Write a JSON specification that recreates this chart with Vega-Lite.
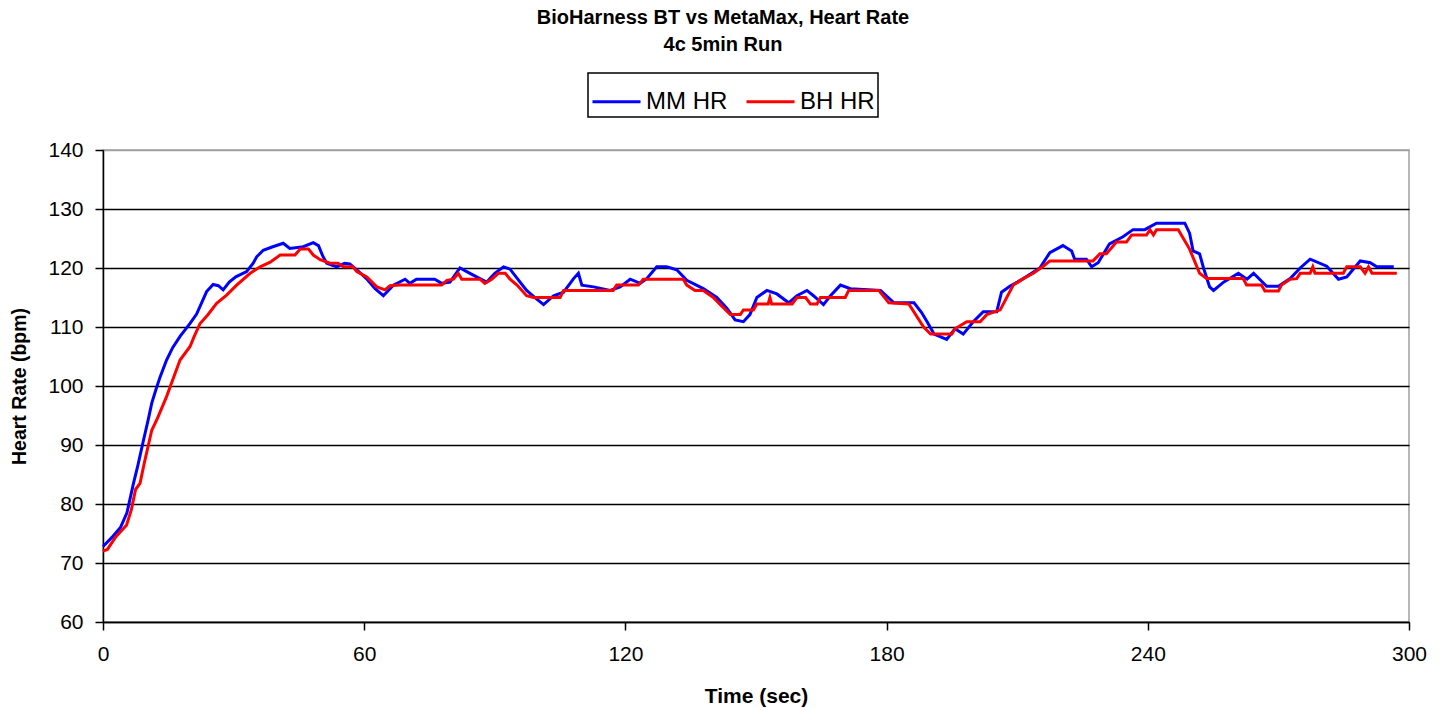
{
  "$schema": "https://vega.github.io/schema/vega-lite/v6.json",
  "autosize": {"type": "none"},
  "width": 1306,
  "height": 472,
  "padding": {"left": 103, "top": 150, "right": 38, "bottom": 88},
  "background": "white",
  "title": {
    "text": ["BioHarness BT vs MetaMax, Heart Rate", "4c 5min Run"],
    "fontSize": 20,
    "fontWeight": "bold",
    "font": "Liberation Sans",
    "anchor": "middle",
    "dx": -33,
    "lineHeight": 27,
    "offset": 17,
    "color": "black"
  },
  "config": {
    "font": "Liberation Sans",
    "view": {"stroke": "#a0a0a0", "strokeWidth": 1.5},
    "axis": {
      "labelFont": "Liberation Sans",
      "titleFont": "Liberation Sans",
      "labelColor": "black",
      "titleColor": "black",
      "domainColor": "black",
      "domainWidth": 1.5,
      "tickColor": "black",
      "tickWidth": 1.5,
      "tickSize": 8,
      "labelFontSize": 21,
      "titleFontSize": 20,
      "titleFontWeight": "bold"
    }
  },
  "data": {
    "values": [
      {"t": 0, "hr": 72.8, "series": "MM HR"},
      {"t": 2, "hr": 74.3, "series": "MM HR"},
      {"t": 4, "hr": 76, "series": "MM HR"},
      {"t": 5.5, "hr": 78.5, "series": "MM HR"},
      {"t": 7, "hr": 83.5, "series": "MM HR"},
      {"t": 8, "hr": 86.5, "series": "MM HR"},
      {"t": 9.3, "hr": 90.8, "series": "MM HR"},
      {"t": 10.3, "hr": 94, "series": "MM HR"},
      {"t": 11.2, "hr": 97.1, "series": "MM HR"},
      {"t": 12.2, "hr": 99.5, "series": "MM HR"},
      {"t": 13.1, "hr": 101.5, "series": "MM HR"},
      {"t": 14.6, "hr": 104.4, "series": "MM HR"},
      {"t": 16, "hr": 106.5, "series": "MM HR"},
      {"t": 17.7, "hr": 108.4, "series": "MM HR"},
      {"t": 20, "hr": 110.6, "series": "MM HR"},
      {"t": 21.5, "hr": 112.2, "series": "MM HR"},
      {"t": 22.6, "hr": 114, "series": "MM HR"},
      {"t": 23.8, "hr": 116, "series": "MM HR"},
      {"t": 25.3, "hr": 117.2, "series": "MM HR"},
      {"t": 26.5, "hr": 117, "series": "MM HR"},
      {"t": 27.6, "hr": 116.3, "series": "MM HR"},
      {"t": 29, "hr": 117.6, "series": "MM HR"},
      {"t": 30.5, "hr": 118.5, "series": "MM HR"},
      {"t": 33, "hr": 119.4, "series": "MM HR"},
      {"t": 34.5, "hr": 120.8, "series": "MM HR"},
      {"t": 35.3, "hr": 121.9, "series": "MM HR"},
      {"t": 36.8, "hr": 123, "series": "MM HR"},
      {"t": 39, "hr": 123.6, "series": "MM HR"},
      {"t": 41.4, "hr": 124.2, "series": "MM HR"},
      {"t": 42.9, "hr": 123.3, "series": "MM HR"},
      {"t": 46, "hr": 123.6, "series": "MM HR"},
      {"t": 48.3, "hr": 124.3, "series": "MM HR"},
      {"t": 49.5, "hr": 123.8, "series": "MM HR"},
      {"t": 50.5, "hr": 122, "series": "MM HR"},
      {"t": 51.4, "hr": 120.8, "series": "MM HR"},
      {"t": 53.7, "hr": 120.2, "series": "MM HR"},
      {"t": 55.5, "hr": 120.8, "series": "MM HR"},
      {"t": 56.7, "hr": 120.7, "series": "MM HR"},
      {"t": 58.3, "hr": 119.7, "series": "MM HR"},
      {"t": 60.5, "hr": 118.2, "series": "MM HR"},
      {"t": 62.5, "hr": 116.5, "series": "MM HR"},
      {"t": 64.4, "hr": 115.3, "series": "MM HR"},
      {"t": 66.7, "hr": 117.1, "series": "MM HR"},
      {"t": 69.4, "hr": 118.1, "series": "MM HR"},
      {"t": 70.5, "hr": 117.4, "series": "MM HR"},
      {"t": 72, "hr": 118.1, "series": "MM HR"},
      {"t": 76.2, "hr": 118.1, "series": "MM HR"},
      {"t": 77.8, "hr": 117.4, "series": "MM HR"},
      {"t": 79.7, "hr": 117.6, "series": "MM HR"},
      {"t": 82, "hr": 120, "series": "MM HR"},
      {"t": 84.3, "hr": 119.1, "series": "MM HR"},
      {"t": 88.1, "hr": 117.6, "series": "MM HR"},
      {"t": 90, "hr": 119.1, "series": "MM HR"},
      {"t": 92, "hr": 120.2, "series": "MM HR"},
      {"t": 93.5, "hr": 119.8, "series": "MM HR"},
      {"t": 97.3, "hr": 116.2, "series": "MM HR"},
      {"t": 99.5, "hr": 114.8, "series": "MM HR"},
      {"t": 101.2, "hr": 113.8, "series": "MM HR"},
      {"t": 103.5, "hr": 115.3, "series": "MM HR"},
      {"t": 105.8, "hr": 115.9, "series": "MM HR"},
      {"t": 108.1, "hr": 118.2, "series": "MM HR"},
      {"t": 109.2, "hr": 119.1, "series": "MM HR"},
      {"t": 110, "hr": 117.1, "series": "MM HR"},
      {"t": 112.7, "hr": 116.8, "series": "MM HR"},
      {"t": 116.5, "hr": 116.2, "series": "MM HR"},
      {"t": 118.8, "hr": 116.8, "series": "MM HR"},
      {"t": 121.1, "hr": 118.1, "series": "MM HR"},
      {"t": 123.4, "hr": 117.4, "series": "MM HR"},
      {"t": 124.9, "hr": 118.2, "series": "MM HR"},
      {"t": 127.2, "hr": 120.2, "series": "MM HR"},
      {"t": 129.5, "hr": 120.2, "series": "MM HR"},
      {"t": 131.8, "hr": 119.7, "series": "MM HR"},
      {"t": 134.1, "hr": 117.9, "series": "MM HR"},
      {"t": 137.9, "hr": 116.5, "series": "MM HR"},
      {"t": 141, "hr": 115, "series": "MM HR"},
      {"t": 143.3, "hr": 113.2, "series": "MM HR"},
      {"t": 145.2, "hr": 111.2, "series": "MM HR"},
      {"t": 147.1, "hr": 110.9, "series": "MM HR"},
      {"t": 148.6, "hr": 112.1, "series": "MM HR"},
      {"t": 150.2, "hr": 115, "series": "MM HR"},
      {"t": 152.5, "hr": 116.2, "series": "MM HR"},
      {"t": 154.8, "hr": 115.6, "series": "MM HR"},
      {"t": 157.5, "hr": 114.1, "series": "MM HR"},
      {"t": 159.4, "hr": 115.3, "series": "MM HR"},
      {"t": 161.7, "hr": 116.2, "series": "MM HR"},
      {"t": 163.2, "hr": 115.3, "series": "MM HR"},
      {"t": 165.5, "hr": 113.8, "series": "MM HR"},
      {"t": 167.1, "hr": 115.3, "series": "MM HR"},
      {"t": 169.4, "hr": 117.1, "series": "MM HR"},
      {"t": 171.7, "hr": 116.5, "series": "MM HR"},
      {"t": 178.6, "hr": 116.2, "series": "MM HR"},
      {"t": 181.7, "hr": 114.1, "series": "MM HR"},
      {"t": 186.3, "hr": 114.1, "series": "MM HR"},
      {"t": 188, "hr": 112.5, "series": "MM HR"},
      {"t": 189.3, "hr": 110.9, "series": "MM HR"},
      {"t": 190.9, "hr": 108.8, "series": "MM HR"},
      {"t": 193.8, "hr": 107.9, "series": "MM HR"},
      {"t": 195.7, "hr": 109.7, "series": "MM HR"},
      {"t": 197.6, "hr": 108.8, "series": "MM HR"},
      {"t": 199.9, "hr": 110.9, "series": "MM HR"},
      {"t": 202.2, "hr": 112.6, "series": "MM HR"},
      {"t": 205.3, "hr": 112.6, "series": "MM HR"},
      {"t": 206.4, "hr": 115.9, "series": "MM HR"},
      {"t": 208.3, "hr": 116.9, "series": "MM HR"},
      {"t": 211.4, "hr": 118.2, "series": "MM HR"},
      {"t": 215.2, "hr": 120, "series": "MM HR"},
      {"t": 217.5, "hr": 122.6, "series": "MM HR"},
      {"t": 220.5, "hr": 123.8, "series": "MM HR"},
      {"t": 222.5, "hr": 122.9, "series": "MM HR"},
      {"t": 223.2, "hr": 121.5, "series": "MM HR"},
      {"t": 225.9, "hr": 121.5, "series": "MM HR"},
      {"t": 227.1, "hr": 120.2, "series": "MM HR"},
      {"t": 228.6, "hr": 120.9, "series": "MM HR"},
      {"t": 231.2, "hr": 124.1, "series": "MM HR"},
      {"t": 234.3, "hr": 125.3, "series": "MM HR"},
      {"t": 236.6, "hr": 126.5, "series": "MM HR"},
      {"t": 239.3, "hr": 126.5, "series": "MM HR"},
      {"t": 242, "hr": 127.6, "series": "MM HR"},
      {"t": 245, "hr": 127.6, "series": "MM HR"},
      {"t": 248.5, "hr": 127.6, "series": "MM HR"},
      {"t": 249.6, "hr": 125.9, "series": "MM HR"},
      {"t": 250.4, "hr": 122.9, "series": "MM HR"},
      {"t": 251.9, "hr": 122.4, "series": "MM HR"},
      {"t": 252.8, "hr": 120, "series": "MM HR"},
      {"t": 254.2, "hr": 116.8, "series": "MM HR"},
      {"t": 255.1, "hr": 116.2, "series": "MM HR"},
      {"t": 257.4, "hr": 117.6, "series": "MM HR"},
      {"t": 260.8, "hr": 119.1, "series": "MM HR"},
      {"t": 262.8, "hr": 118.1, "series": "MM HR"},
      {"t": 264.3, "hr": 119.1, "series": "MM HR"},
      {"t": 267.3, "hr": 116.9, "series": "MM HR"},
      {"t": 270, "hr": 116.9, "series": "MM HR"},
      {"t": 272.7, "hr": 118.2, "series": "MM HR"},
      {"t": 275, "hr": 120, "series": "MM HR"},
      {"t": 277.3, "hr": 121.5, "series": "MM HR"},
      {"t": 281.1, "hr": 120.3, "series": "MM HR"},
      {"t": 283.8, "hr": 118.1, "series": "MM HR"},
      {"t": 285.7, "hr": 118.5, "series": "MM HR"},
      {"t": 288.8, "hr": 121.2, "series": "MM HR"},
      {"t": 291.1, "hr": 120.9, "series": "MM HR"},
      {"t": 292.6, "hr": 120.2, "series": "MM HR"},
      {"t": 296.5, "hr": 120.2, "series": "MM HR"},

      {"t": 0, "hr": 72, "series": "BH HR"},
      {"t": 1, "hr": 72.3, "series": "BH HR"},
      {"t": 3, "hr": 74.5, "series": "BH HR"},
      {"t": 5.4, "hr": 76.4, "series": "BH HR"},
      {"t": 6.5, "hr": 79, "series": "BH HR"},
      {"t": 7.5, "hr": 82.5, "series": "BH HR"},
      {"t": 8.5, "hr": 83.5, "series": "BH HR"},
      {"t": 9.5, "hr": 87, "series": "BH HR"},
      {"t": 11.2, "hr": 92.5, "series": "BH HR"},
      {"t": 12.5, "hr": 94.5, "series": "BH HR"},
      {"t": 14.6, "hr": 98.2, "series": "BH HR"},
      {"t": 16, "hr": 101, "series": "BH HR"},
      {"t": 17.7, "hr": 104.4, "series": "BH HR"},
      {"t": 20, "hr": 106.7, "series": "BH HR"},
      {"t": 21, "hr": 108.5, "series": "BH HR"},
      {"t": 22.3, "hr": 110.6, "series": "BH HR"},
      {"t": 24, "hr": 112, "series": "BH HR"},
      {"t": 26.1, "hr": 114, "series": "BH HR"},
      {"t": 28.4, "hr": 115.4, "series": "BH HR"},
      {"t": 30.7, "hr": 117.1, "series": "BH HR"},
      {"t": 33.8, "hr": 119.1, "series": "BH HR"},
      {"t": 36.1, "hr": 120.2, "series": "BH HR"},
      {"t": 38.4, "hr": 121, "series": "BH HR"},
      {"t": 40.7, "hr": 122.2, "series": "BH HR"},
      {"t": 44.1, "hr": 122.2, "series": "BH HR"},
      {"t": 45.3, "hr": 123.2, "series": "BH HR"},
      {"t": 47.2, "hr": 123.2, "series": "BH HR"},
      {"t": 48.3, "hr": 122.2, "series": "BH HR"},
      {"t": 49.9, "hr": 121.4, "series": "BH HR"},
      {"t": 52.1, "hr": 120.8, "series": "BH HR"},
      {"t": 54, "hr": 120.8, "series": "BH HR"},
      {"t": 55.2, "hr": 120.2, "series": "BH HR"},
      {"t": 57.4, "hr": 120.2, "series": "BH HR"},
      {"t": 58.3, "hr": 119.4, "series": "BH HR"},
      {"t": 60.6, "hr": 118.5, "series": "BH HR"},
      {"t": 62.9, "hr": 116.8, "series": "BH HR"},
      {"t": 64.8, "hr": 116.3, "series": "BH HR"},
      {"t": 65.9, "hr": 117, "series": "BH HR"},
      {"t": 68.2, "hr": 117.1, "series": "BH HR"},
      {"t": 77.8, "hr": 117.1, "series": "BH HR"},
      {"t": 79, "hr": 117.9, "series": "BH HR"},
      {"t": 80.5, "hr": 118.1, "series": "BH HR"},
      {"t": 81.6, "hr": 119.1, "series": "BH HR"},
      {"t": 82.4, "hr": 118.1, "series": "BH HR"},
      {"t": 86.6, "hr": 118.1, "series": "BH HR"},
      {"t": 87.7, "hr": 117.4, "series": "BH HR"},
      {"t": 89.3, "hr": 118.1, "series": "BH HR"},
      {"t": 90.8, "hr": 119.1, "series": "BH HR"},
      {"t": 92.4, "hr": 119.1, "series": "BH HR"},
      {"t": 93.5, "hr": 118.1, "series": "BH HR"},
      {"t": 95.1, "hr": 117.1, "series": "BH HR"},
      {"t": 97.3, "hr": 115.3, "series": "BH HR"},
      {"t": 98.9, "hr": 115, "series": "BH HR"},
      {"t": 105, "hr": 115, "series": "BH HR"},
      {"t": 105.8, "hr": 116.2, "series": "BH HR"},
      {"t": 117.2, "hr": 116.2, "series": "BH HR"},
      {"t": 118, "hr": 117.1, "series": "BH HR"},
      {"t": 123, "hr": 117.1, "series": "BH HR"},
      {"t": 124.1, "hr": 118.1, "series": "BH HR"},
      {"t": 133.3, "hr": 118.1, "series": "BH HR"},
      {"t": 134.1, "hr": 117.1, "series": "BH HR"},
      {"t": 136, "hr": 116.2, "series": "BH HR"},
      {"t": 137.9, "hr": 116.2, "series": "BH HR"},
      {"t": 140.2, "hr": 115, "series": "BH HR"},
      {"t": 141.8, "hr": 113.8, "series": "BH HR"},
      {"t": 144.1, "hr": 112.1, "series": "BH HR"},
      {"t": 146.4, "hr": 112.1, "series": "BH HR"},
      {"t": 147.1, "hr": 112.9, "series": "BH HR"},
      {"t": 149.4, "hr": 112.9, "series": "BH HR"},
      {"t": 150.2, "hr": 113.9, "series": "BH HR"},
      {"t": 152.8, "hr": 113.9, "series": "BH HR"},
      {"t": 153.2, "hr": 115, "series": "BH HR"},
      {"t": 153.6, "hr": 113.9, "series": "BH HR"},
      {"t": 158.3, "hr": 113.9, "series": "BH HR"},
      {"t": 159.4, "hr": 115, "series": "BH HR"},
      {"t": 161.4, "hr": 115, "series": "BH HR"},
      {"t": 162.5, "hr": 113.9, "series": "BH HR"},
      {"t": 164, "hr": 113.9, "series": "BH HR"},
      {"t": 164.8, "hr": 115, "series": "BH HR"},
      {"t": 170.5, "hr": 115, "series": "BH HR"},
      {"t": 171.3, "hr": 116.2, "series": "BH HR"},
      {"t": 178.2, "hr": 116.2, "series": "BH HR"},
      {"t": 180.5, "hr": 114.1, "series": "BH HR"},
      {"t": 185.1, "hr": 113.9, "series": "BH HR"},
      {"t": 188.5, "hr": 110, "series": "BH HR"},
      {"t": 190.1, "hr": 108.8, "series": "BH HR"},
      {"t": 195, "hr": 108.8, "series": "BH HR"},
      {"t": 195.7, "hr": 109.7, "series": "BH HR"},
      {"t": 198.4, "hr": 110.9, "series": "BH HR"},
      {"t": 201.5, "hr": 110.9, "series": "BH HR"},
      {"t": 203, "hr": 112.1, "series": "BH HR"},
      {"t": 206.1, "hr": 112.9, "series": "BH HR"},
      {"t": 209.1, "hr": 117.1, "series": "BH HR"},
      {"t": 211.4, "hr": 118.2, "series": "BH HR"},
      {"t": 213.7, "hr": 119.1, "series": "BH HR"},
      {"t": 216, "hr": 120.3, "series": "BH HR"},
      {"t": 217.5, "hr": 121.2, "series": "BH HR"},
      {"t": 227.4, "hr": 121.2, "series": "BH HR"},
      {"t": 229, "hr": 122.4, "series": "BH HR"},
      {"t": 230.5, "hr": 122.4, "series": "BH HR"},
      {"t": 232.8, "hr": 124.4, "series": "BH HR"},
      {"t": 235.1, "hr": 124.4, "series": "BH HR"},
      {"t": 236.3, "hr": 125.6, "series": "BH HR"},
      {"t": 239.7, "hr": 125.6, "series": "BH HR"},
      {"t": 240.5, "hr": 126.5, "series": "BH HR"},
      {"t": 241.3, "hr": 125.6, "series": "BH HR"},
      {"t": 242, "hr": 126.5, "series": "BH HR"},
      {"t": 247, "hr": 126.5, "series": "BH HR"},
      {"t": 249.6, "hr": 123.2, "series": "BH HR"},
      {"t": 251.9, "hr": 119.1, "series": "BH HR"},
      {"t": 253.5, "hr": 118.2, "series": "BH HR"},
      {"t": 261.9, "hr": 118.2, "series": "BH HR"},
      {"t": 262.7, "hr": 117.1, "series": "BH HR"},
      {"t": 266.1, "hr": 117.1, "series": "BH HR"},
      {"t": 266.9, "hr": 116.1, "series": "BH HR"},
      {"t": 270, "hr": 116.1, "series": "BH HR"},
      {"t": 270.7, "hr": 117.1, "series": "BH HR"},
      {"t": 272.7, "hr": 118.1, "series": "BH HR"},
      {"t": 274.2, "hr": 118.2, "series": "BH HR"},
      {"t": 275, "hr": 119.1, "series": "BH HR"},
      {"t": 277.3, "hr": 119.1, "series": "BH HR"},
      {"t": 277.9, "hr": 120.2, "series": "BH HR"},
      {"t": 278.4, "hr": 119.1, "series": "BH HR"},
      {"t": 284.9, "hr": 119.1, "series": "BH HR"},
      {"t": 285.7, "hr": 120.2, "series": "BH HR"},
      {"t": 288.8, "hr": 120.2, "series": "BH HR"},
      {"t": 289.9, "hr": 119.1, "series": "BH HR"},
      {"t": 290.7, "hr": 120.2, "series": "BH HR"},
      {"t": 291.5, "hr": 119.1, "series": "BH HR"},
      {"t": 297.2, "hr": 119.1, "series": "BH HR"}
    ]
  },
  "mark": {"type": "line", "strokeWidth": 3, "interpolate": "linear"},
  "encoding": {
    "x": {
      "field": "t",
      "type": "quantitative",
      "scale": {"domain": [0, 300], "nice": false},
      "axis": {
        "values": [0, 60, 120, 180, 240, 300],
        "title": "Time (sec)",
        "titleFontSize": 21,
        "grid": false,
        "labelPadding": 13,
        "titlePadding": 21,
        "labelFlush": false
      }
    },
    "y": {
      "field": "hr",
      "type": "quantitative",
      "scale": {"domain": [60, 140], "nice": false, "zero": false},
      "axis": {
        "values": [60, 70, 80, 90, 100, 110, 120, 130, 140],
        "title": "Heart Rate (bpm)",
        "titleFontSize": 19.5,
        "grid": true,
        "gridColor": {"condition": {"test": "datum.value == 140", "value": "#a0a0a0"}, "value": "black"},
        "gridWidth": 1.5,
        "gridOpacity": 1,
        "labelPadding": 12,
        "titlePadding": 18,
        "labelFlush": false
      }
    },
    "color": {
      "field": "series",
      "type": "nominal",
      "sort": ["MM HR", "BH HR"],
      "scale": {"domain": ["MM HR", "BH HR"], "range": ["#0000FF", "#FF0000"]},
      "legend": {
        "title": null,
        "orient": "none",
        "legendX": 485,
        "legendY": -77,
        "direction": "horizontal",
        "strokeColor": "black",
        "padding": 3,
        "symbolType": "stroke",
        "symbolSize": 2304,
        "symbolStrokeWidth": 3,
        "labelFontSize": 24,
        "labelFont": "Liberation Sans",
        "labelColor": "black",
        "labelOffset": 4,
        "columnPadding": 12,
        "encode": {"legend": {"update": {"stroke": {"value": "black"}, "strokeWidth": {"value": 1.5}}}}
      }
    }
  }
}
